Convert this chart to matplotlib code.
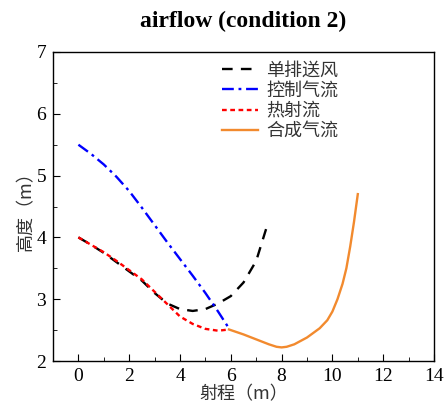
import matplotlib
matplotlib.use("Agg")
import matplotlib.pyplot as plt
from matplotlib.ticker import MultipleLocator

# Data
single_x = [0, 0.5, 1, 1.5, 2, 2.5, 3, 3.5, 4, 4.5, 5, 5.5, 6, 6.5, 7, 7.4]
single_y = [4.0, 3.88, 3.75, 3.6, 3.45, 3.3, 3.1, 2.93, 2.84, 2.81, 2.84, 2.93, 3.05, 3.27, 3.62, 4.15]

control_x = [0, 0.5, 1, 1.5, 2, 2.5, 3, 3.5, 4, 4.5, 5, 5.5, 5.94]
control_y = [5.5, 5.35, 5.18, 4.98, 4.75, 4.48, 4.2, 3.92, 3.65, 3.38, 3.1, 2.8, 2.52]

thermal_x = [0, 0.5, 1, 1.5, 2, 2.5, 3, 3.5, 4, 4.5, 5, 5.5, 5.93]
thermal_y = [4.0, 3.88, 3.76, 3.62, 3.47, 3.32, 3.12, 2.92, 2.72, 2.6, 2.52, 2.49, 2.51]

combined_x = [5.93, 6.5, 7, 7.5, 7.8, 8, 8.2, 8.5, 9, 9.5, 9.8, 10, 10.2, 10.4, 10.55, 10.7, 10.85, 11]
combined_y = [2.51, 2.43, 2.35, 2.27, 2.23, 2.22, 2.23, 2.27, 2.38, 2.53, 2.66, 2.8, 3.0, 3.25, 3.5, 3.85, 4.25, 4.7]

labels = ["单排送风", "控制气流", "热射流", "合成气流"]
title = "airflow (condition 2)"
xlabel = "射程（m）"
ylabel = "高度（m）"

plt.rcParams['font.family'] = ['Liberation Serif', 'Noto Sans CJK SC']
cjk = ['Noto Sans CJK SC', 'Liberation Serif']

fig = plt.figure(figsize=(4.45, 4.04), dpi=100)
ax = fig.add_axes([53/445, 1 - 361/404, (434-53)/445, (361-52)/404])

lw = 1.7
ax.plot(single_x, single_y, color='black', linestyle=(0, (4.5, 3.5)), lw=lw, label=labels[0])
ax.plot(control_x, control_y, color='blue', linestyle=(0, (5, 2, 1.2, 2)), lw=lw, label=labels[1])
ax.plot(thermal_x, thermal_y, color='red', linestyle=(0, (2, 1.5)), lw=lw, label=labels[2])
ax.plot(combined_x, combined_y, color='#F28A2E', linestyle='-', lw=lw, label=labels[3])

ax.set_xlim(-1, 14)
ax.set_ylim(2, 7)
ax.xaxis.set_major_locator(MultipleLocator(2))
ax.xaxis.set_minor_locator(MultipleLocator(1))
ax.yaxis.set_major_locator(MultipleLocator(1))
ax.yaxis.set_minor_locator(MultipleLocator(0.5))
ax.tick_params(which='both', direction='in', top=False, right=False, labelsize=14, pad=5)
ax.tick_params(which='major', length=5)
ax.tick_params(which='minor', length=3)
for s in ax.spines.values():
    s.set_linewidth(1.0)

ax.set_title(title, fontsize=17, fontweight='bold', pad=18)
ax.set_xlabel(xlabel, fontsize=13, family=cjk, color='#333333', labelpad=0)
ax.set_ylabel(ylabel, fontsize=13, family=cjk, color='#333333', labelpad=1)

leg = ax.legend(loc='upper left', bbox_to_anchor=(0.41, 1.01), frameon=False,
                prop={'family': cjk, 'size': 13}, handlelength=2.0,
                labelspacing=0.12, handletextpad=0.45, borderaxespad=0.3)
for t in leg.get_texts():
    t.set_color('#333333')

fig.savefig("out.png", dpi=100)
